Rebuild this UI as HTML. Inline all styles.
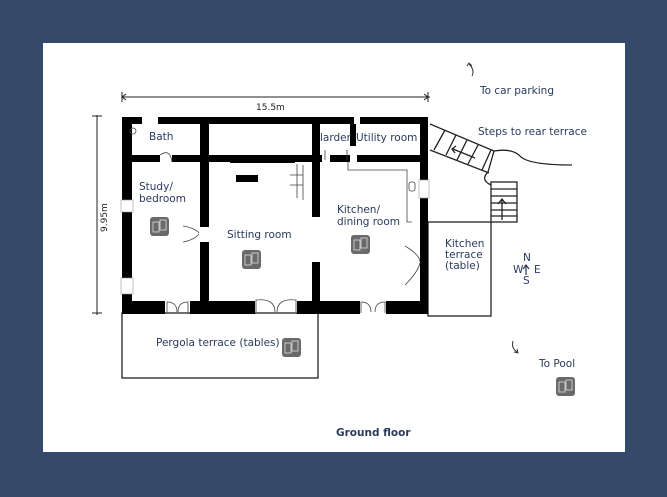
<!DOCTYPE html>
<html><head><meta charset="utf-8"><style>
html,body{margin:0;padding:0;background:#354a6b;}
svg{display:block}
text{font-family:"DejaVu Sans","Liberation Sans",sans-serif;fill:#2a3a5e;font-size:10.5px}
</style></head><body>
<svg width="667" height="497" viewBox="0 0 667 497" xmlns="http://www.w3.org/2000/svg">
<rect x="0" y="0" width="667" height="497" fill="#354a6b"/>
<rect x="43" y="43" width="582" height="409" fill="#ffffff"/>
<g stroke="#222" stroke-width="1" fill="none">
<line x1="122" y1="97" x2="430" y2="97"/>
<line x1="122" y1="92" x2="122" y2="102"/><line x1="428" y1="92" x2="428" y2="102"/>
<path d="M126 94 L122 97 L126 100 M424 94 L428 97 L424 100"/>
<line x1="97" y1="115" x2="97" y2="315"/>
<line x1="92" y1="116" x2="102" y2="116"/><line x1="92" y1="313" x2="102" y2="313"/>
</g>
<text x="256" y="110" font-size="9" style="fill:#222;font-size:9px">15.5m</text>
<text transform="translate(107,232) rotate(-90)" style="fill:#222;font-size:9px">9.95m</text>
<g stroke="#222" stroke-width="1.3" fill="none">
<rect x="122" y="313" width="196" height="65"/>
<rect x="428" y="222" width="63" height="94"/>
<path d="M430 124 L494 151 L488 172 Q480 180 491 185"/>
<path d="M430 150 L489 173"/>
<path d="M494 151 Q512 148 520 156 Q528 165 572 165"/>
<line x1="445" y1="130" x2="434" y2="150"/>
<line x1="456" y1="135" x2="446" y2="155"/>
<line x1="467" y1="140" x2="457" y2="160"/>
<line x1="478" y1="145" x2="468" y2="164"/>
<line x1="491" y1="150" x2="482" y2="170"/>
<path d="M475 158 L453 149 M456 146 L452 149 L455 153"/>
<rect x="491" y="182" width="26" height="40"/>
<line x1="491" y1="189" x2="517" y2="189"/><line x1="491" y1="196" x2="517" y2="196"/>
<line x1="491" y1="203" x2="517" y2="203"/><line x1="491" y1="210" x2="517" y2="210"/>
<line x1="491" y1="216" x2="517" y2="216"/>
<path d="M502 220 L502 200 M498 204 L502 199 L506 204"/>
</g>
<g fill="#000">
<rect x="122" y="117" width="10" height="197"/>
<rect x="122" y="117" width="20" height="7"/>
<rect x="158" y="117" width="196" height="7"/>
<rect x="360" y="117" width="68" height="7"/>
<rect x="420" y="117" width="8" height="197"/>
<rect x="122" y="301" width="43" height="13"/>
<rect x="190" y="301" width="65" height="13"/>
<rect x="297" y="301" width="63" height="13"/>
<rect x="386" y="301" width="42" height="13"/>
<rect x="122" y="155" width="38" height="7"/>
<rect x="172" y="155" width="150" height="7"/>
<rect x="330" y="155" width="20" height="7"/>
<rect x="357" y="155" width="71" height="7"/>
<rect x="200" y="117" width="9" height="110"/>
<rect x="200" y="242" width="9" height="72"/>
<rect x="312" y="117" width="8" height="100"/>
<rect x="312" y="262" width="8" height="52"/>
<rect x="350" y="124" width="6" height="22"/>
<rect x="230" y="157" width="65" height="6"/>
<rect x="236" y="175" width="22" height="7"/>
</g>
<g fill="#fff" stroke="#999" stroke-width="0.6">
<rect x="121" y="200" width="12" height="12"/>
<rect x="121" y="278" width="12" height="16"/>
<rect x="419" y="180" width="10" height="18"/>
</g>
<g stroke="#444" stroke-width="0.8" fill="none">
<path d="M167 313 L167 302 Q177 302 177 312 M188 313 L188 302 Q178 302 178 312"/>
<path d="M256 313 L256 300 Q275 298 275 312 M296 313 L296 300 Q277 298 277 312"/>
<path d="M361 313 L361 302 Q371 302 371 312 M385 313 L385 302 Q375 302 375 312"/>
<path d="M183 226 Q195 228 199 233 M183 242 Q194 240 199 234"/>
<path d="M405 246 Q420 255 420 262 M405 285 Q418 272 420 263"/>
<path d="M160 155 Q170 148 172 162"/>
<path d="M325 160 L325 150 M347 160 L347 150"/>
<path d="M297 164 L297 198 M290 175 L303 175 M290 185 L303 185 M303 165 L303 200"/>
<path d="M348 162 L348 170 L407 170 L407 222 L412 222"/>
<rect x="409" y="182" width="6" height="9" rx="2"/>
<circle cx="133" cy="131" r="3"/>
</g>
<g fill="#6a6a6a">
<rect x="150" y="217" width="19" height="19" rx="3"/>
<rect x="242" y="250" width="19" height="19" rx="3"/>
<rect x="351" y="235" width="19" height="19" rx="3"/>
<rect x="282" y="338" width="19" height="19" rx="3"/>
<rect x="556" y="377" width="19" height="19" rx="3"/>
</g>
<g stroke="#ddd" stroke-width="0.8" fill="none">
<rect x="153" y="222" width="6" height="10"/><rect x="160" y="220" width="6" height="10"/>
<rect x="245" y="255" width="6" height="10"/><rect x="252" y="253" width="6" height="10"/>
<rect x="354" y="240" width="6" height="10"/><rect x="361" y="238" width="6" height="10"/>
<rect x="285" y="343" width="6" height="10"/><rect x="292" y="341" width="6" height="10"/>
<rect x="559" y="382" width="6" height="10"/><rect x="566" y="380" width="6" height="10"/>
</g>
<text x="149" y="140">Bath</text>
<text x="320" y="141">larder</text>
<text x="356" y="141">Utility room</text>
<text x="139" y="190">Study/</text>
<text x="139" y="202">bedroom</text>
<text x="227" y="238">Sitting room</text>
<text x="337" y="213">Kitchen/</text>
<text x="337" y="225">dining room</text>
<text x="156" y="346">Pergola terrace (tables)</text>
<text x="445" y="247">Kitchen</text>
<text x="445" y="258">terrace</text>
<text x="445" y="269">(table)</text>
<text x="480" y="94">To car parking</text>
<text x="478" y="135">Steps to rear terrace</text>
<text x="539" y="367">To Pool</text>
<text x="523" y="261">N</text>
<text x="513" y="273">W</text>
<text x="534" y="273">E</text>
<text x="523" y="284">S</text>
<path d="M526 275 L526 266 M523 269 L526 265 L529 269" stroke="#2a3a5e" stroke-width="1.2" fill="none"/>
<path d="M469 64 Q475 70 472 76" stroke="#333" fill="none"/>
<path d="M467 66 L469 63 L472 66" stroke="#333" fill="none"/>
<path d="M513 341 Q511 348 517 352 M514 352 L518 353 L517 349" stroke="#333" fill="none"/>
<text x="336" y="436" font-weight="bold" style="font-size:10.5px">Ground floor</text>
</svg>
</body></html>
